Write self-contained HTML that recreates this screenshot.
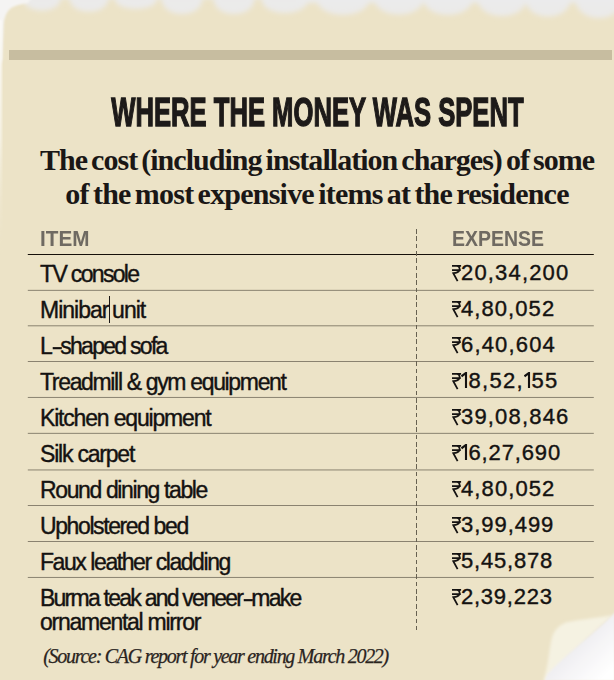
<!DOCTYPE html>
<html><head><meta charset="utf-8">
<style>
html,body{margin:0;padding:0;width:614px;height:680px;overflow:hidden;background:#ece3c7;}
#root{width:614px;height:680px;overflow:hidden;position:relative;background:#ece3c7;font-family:"Liberation Sans",sans-serif;}
.a{position:absolute;white-space:nowrap;}
#band{left:9.3px;top:50.2px;width:602.7px;height:9.5px;background:#c7bda0;}
#title{left:-200px;width:1034px;text-align:center;font:bold 41.2px/1 "Liberation Sans",sans-serif;color:#1d1a19;}
#title span{display:inline-block;transform:scaleX(0.622);transform-origin:center;-webkit-text-stroke:1.4px #1d1a19;}
.sub{left:-100px;width:834px;text-align:center;font:bold 30px/1 "Liberation Serif",serif;color:#1a1716;}
.hd{font:bold 22px/1 "Liberation Sans",sans-serif;color:#6f6a62;letter-spacing:-1.2px;}
.it{font:23px/1 "Liberation Sans",sans-serif;color:#141211;-webkit-text-stroke:0.4px #141211;letter-spacing:-1.1px;}
.ex{font:22px/1 "Liberation Sans",sans-serif;color:#141211;-webkit-text-stroke:0.4px #141211;letter-spacing:0.7px;}
.rs{position:absolute;}
.ln{position:absolute;left:28px;width:566px;height:1px;background:#9b937f;}
#dash{position:absolute;left:416.1px;top:229px;width:1.4px;height:401px;background:repeating-linear-gradient(to bottom,#676151 0 4.7px,transparent 4.7px 7.35px);}
#src{left:43.2px;font:italic 20px/1 "Liberation Serif",serif;color:#2a241e;letter-spacing:-1.28px;-webkit-text-stroke:0.25px #2a241e;}
</style></head><body><div id="root">

<svg class="a" style="left:0;top:0" width="614" height="680" viewBox="0 0 614 680"><defs><filter id="bl" x="-5%" y="-50%" width="110%" height="200%"><feGaussianBlur stdDeviation="2.8"/></filter><filter id="bl2"><feGaussianBlur stdDeviation="2.2"/></filter><filter id="bl3" x="-20%" y="-20%" width="140%" height="140%"><feGaussianBlur stdDeviation="1.6"/></filter><filter id="bl4" x="-20%" y="-20%" width="140%" height="140%"><feGaussianBlur stdDeviation="0.8"/></filter><linearGradient id="lg" x1="0" y1="0" x2="0" y2="1"><stop offset="0" stop-color="#fbfaf6"/><stop offset="0.5" stop-color="#f6f2e4"/><stop offset="1" stop-color="#ece3c7" stop-opacity="0"/></linearGradient><linearGradient id="cg" x1="0.1" y1="0.1" x2="0.9" y2="0.9"><stop offset="0" stop-color="#e5e4e9"/><stop offset="0.45" stop-color="#efeef1"/><stop offset="1" stop-color="#ffffff"/></linearGradient></defs><g fill="#ebebec" fill-opacity="0.95" filter="url(#bl)"><rect x="0" y="-5" width="614" height="3.5"/><rect x="300" y="-5" width="320" height="8"/><ellipse cx="42" cy="0" rx="18.4" ry="10.5"/><ellipse cx="89" cy="0" rx="19.2" ry="11.5"/><ellipse cx="136" cy="0" rx="20.8" ry="9"/><ellipse cx="182" cy="0" rx="20.3" ry="14"/><ellipse cx="234" cy="0" rx="20.3" ry="14"/><ellipse cx="285" cy="0" rx="23.2" ry="13"/><ellipse cx="343" cy="0" rx="26.1" ry="15"/><ellipse cx="399" cy="0" rx="24.3" ry="14.5"/><ellipse cx="448" cy="0" rx="24.3" ry="15"/><ellipse cx="502" cy="0" rx="24.3" ry="16"/><ellipse cx="548" cy="0" rx="22.5" ry="16.5"/><ellipse cx="599" cy="0" rx="23.4" ry="18"/></g><path d="M-3,-3 H32 L28,3.2 C20,3.8 12,6 8.5,10.5 C5.5,14.5 4,19 3.7,24 L2.2,60 L-3,70 Z" fill="#f5f4f3" filter="url(#bl4)"/><rect x="-2" y="20" width="3.9" height="240" fill="url(#lg)" filter="url(#bl4)"/><path d="M612.5,615.3 C595,618 578,620 566.6,622.3 C559,625 554,631 552.2,636.7 C550.5,643 549.5,651 548.5,658 C547.5,666 545.5,673 543.5,681 L548,681 C565,658 590,636 612.5,615.3 Z" fill="#f5f2e2" filter="url(#bl3)"/><path d="M612,615.6 L615,612 L615,681 L544.5,681 L547.5,674 C565,656 590,636 612,615.6 Z" fill="url(#cg)" filter="url(#bl4)"/></svg>
<div class="a" id="band"></div>
<div class="a" id="title" style="top:92.32px"><span>WHERE THE MONEY WAS SPENT</span></div>
<div class="a sub" style="top:144.88px;letter-spacing:-0.97px;word-spacing:-2.5px">The cost (including installation charges) of some</div>
<div class="a sub" style="top:179.18px;letter-spacing:-0.78px;word-spacing:-2.5px">of the most expensive items at the residence</div>
<div class="a hd" style="left:40px;top:228.08px;letter-spacing:0px;transform:scaleX(0.94);transform-origin:0 0">ITEM</div>
<div class="a hd" style="left:452px;top:228.08px;letter-spacing:0px;transform:scaleX(0.885);transform-origin:0 0">EXPENSE</div>
<svg class="a" style="left:0;top:0" width="614" height="680"><line x1="27.8" x2="593.8" y1="254.5" y2="254.5" stroke="#16100a" stroke-width="1.1"/><line x1="27.8" x2="593.8" y1="290.35" y2="290.35" stroke="#8a8270" stroke-width="1.0"/><line x1="27.8" x2="593.8" y1="325.80" y2="325.80" stroke="#8a8270" stroke-width="1.0"/><line x1="27.8" x2="593.8" y1="361.50" y2="361.50" stroke="#8a8270" stroke-width="1.0"/><line x1="27.8" x2="593.8" y1="397.45" y2="397.45" stroke="#8a8270" stroke-width="1.0"/><line x1="27.8" x2="593.8" y1="433.35" y2="433.35" stroke="#8a8270" stroke-width="1.0"/><line x1="27.8" x2="593.8" y1="469.95" y2="469.95" stroke="#8a8270" stroke-width="1.0"/><line x1="27.8" x2="593.8" y1="505.50" y2="505.50" stroke="#8a8270" stroke-width="1.0"/><line x1="27.8" x2="593.8" y1="541.50" y2="541.50" stroke="#8a8270" stroke-width="1.0"/><line x1="27.8" x2="593.8" y1="577.45" y2="577.45" stroke="#8a8270" stroke-width="1.0"/></svg>
<div id="dash"></div>
<div class="a it" style="left:40px;top:262.83px;letter-spacing:-1.66px">TV console</div>
<div class="a ex" style="left:461px;top:262.08px;letter-spacing:1.17px">20,34,200</div>
<svg class="rs" style="left:452px;top:265.00px" width="10" height="17" viewBox="0 0 10 17"><path d="M0 0.75H9.1M0 5.1H8.8M4.6 0.9C7.4 1.1 7.9 3.4 7.4 5.1C6.7 7.2 4.2 8.0 1.3 8.2L5.6 16.2" fill="none" stroke="#141211" stroke-width="1.75"/></svg>
<div class="a it" style="left:40px;top:298.81px;letter-spacing:-0.99px">Minibar</div>
<div class="a it" style="left:112.10px;top:298.81px;letter-spacing:-0.99px">unit</div>
<div class="a" style="left:109px;top:296px;width:1px;height:27px;background:#1a1716"></div>
<div class="a ex" style="left:461px;top:298.06px;letter-spacing:1.07px">4,80,052</div>
<svg class="rs" style="left:452px;top:300.98px" width="10" height="17" viewBox="0 0 10 17"><path d="M0 0.75H9.1M0 5.1H8.8M4.6 0.9C7.4 1.1 7.9 3.4 7.4 5.1C6.7 7.2 4.2 8.0 1.3 8.2L5.6 16.2" fill="none" stroke="#141211" stroke-width="1.75"/></svg>
<div class="a it" style="left:40px;top:334.79px;letter-spacing:-1.72px">L<span style="display:inline-block;transform:scaleX(1.5);margin:0 1.6px">-</span>shaped sofa</div>
<div class="a ex" style="left:461px;top:334.04px;letter-spacing:1.16px">6,40,604</div>
<svg class="rs" style="left:452px;top:336.96px" width="10" height="17" viewBox="0 0 10 17"><path d="M0 0.75H9.1M0 5.1H8.8M4.6 0.9C7.4 1.1 7.9 3.4 7.4 5.1C6.7 7.2 4.2 8.0 1.3 8.2L5.6 16.2" fill="none" stroke="#141211" stroke-width="1.75"/></svg>
<div class="a it" style="left:40px;top:370.77px;letter-spacing:-1.34px">Treadmill &amp; gym equipment</div>
<div class="a ex" style="left:461px;top:370.02px;letter-spacing:1.32px"><svg width="6.5" height="16" viewBox="0 0 6.5 16" style="vertical-align:baseline;margin-right:1px"><path d="M5 16V0.9L0.5 4.3" fill="none" stroke="#141211" stroke-width="2.1" stroke-linejoin="miter"/></svg>8,52,<svg width="6.5" height="16" viewBox="0 0 6.5 16" style="vertical-align:baseline;margin-right:1px"><path d="M5 16V0.9L0.5 4.3" fill="none" stroke="#141211" stroke-width="2.1" stroke-linejoin="miter"/></svg>55</div>
<svg class="rs" style="left:452px;top:372.94px" width="10" height="17" viewBox="0 0 10 17"><path d="M0 0.75H9.1M0 5.1H8.8M4.6 0.9C7.4 1.1 7.9 3.4 7.4 5.1C6.7 7.2 4.2 8.0 1.3 8.2L5.6 16.2" fill="none" stroke="#141211" stroke-width="1.75"/></svg>
<div class="a it" style="left:40px;top:406.75px;letter-spacing:-1.18px">Kitchen equipment</div>
<div class="a ex" style="left:461px;top:406.00px;letter-spacing:1.18px">39,08,846</div>
<svg class="rs" style="left:452px;top:408.92px" width="10" height="17" viewBox="0 0 10 17"><path d="M0 0.75H9.1M0 5.1H8.8M4.6 0.9C7.4 1.1 7.9 3.4 7.4 5.1C6.7 7.2 4.2 8.0 1.3 8.2L5.6 16.2" fill="none" stroke="#141211" stroke-width="1.75"/></svg>
<div class="a it" style="left:40px;top:442.73px;letter-spacing:-1.21px">Silk carpet</div>
<div class="a ex" style="left:461px;top:441.98px;letter-spacing:0.86px"><svg width="6.5" height="16" viewBox="0 0 6.5 16" style="vertical-align:baseline;margin-right:1px"><path d="M5 16V0.9L0.5 4.3" fill="none" stroke="#141211" stroke-width="2.1" stroke-linejoin="miter"/></svg>6,27,690</div>
<svg class="rs" style="left:452px;top:444.90px" width="10" height="17" viewBox="0 0 10 17"><path d="M0 0.75H9.1M0 5.1H8.8M4.6 0.9C7.4 1.1 7.9 3.4 7.4 5.1C6.7 7.2 4.2 8.0 1.3 8.2L5.6 16.2" fill="none" stroke="#141211" stroke-width="1.75"/></svg>
<div class="a it" style="left:40px;top:478.71px;letter-spacing:-1.38px">Round dining table</div>
<div class="a ex" style="left:461px;top:477.96px;letter-spacing:1.10px">4,80,052</div>
<svg class="rs" style="left:452px;top:480.88px" width="10" height="17" viewBox="0 0 10 17"><path d="M0 0.75H9.1M0 5.1H8.8M4.6 0.9C7.4 1.1 7.9 3.4 7.4 5.1C6.7 7.2 4.2 8.0 1.3 8.2L5.6 16.2" fill="none" stroke="#141211" stroke-width="1.75"/></svg>
<div class="a it" style="left:40px;top:514.69px;letter-spacing:-1.40px">Upholstered bed</div>
<div class="a ex" style="left:461px;top:513.94px;letter-spacing:0.96px">3,99,499</div>
<svg class="rs" style="left:452px;top:516.86px" width="10" height="17" viewBox="0 0 10 17"><path d="M0 0.75H9.1M0 5.1H8.8M4.6 0.9C7.4 1.1 7.9 3.4 7.4 5.1C6.7 7.2 4.2 8.0 1.3 8.2L5.6 16.2" fill="none" stroke="#141211" stroke-width="1.75"/></svg>
<div class="a it" style="left:40px;top:550.67px;letter-spacing:-1.43px">Faux leather cladding</div>
<div class="a ex" style="left:461px;top:549.92px;letter-spacing:0.81px">5,45,878</div>
<svg class="rs" style="left:452px;top:552.84px" width="10" height="17" viewBox="0 0 10 17"><path d="M0 0.75H9.1M0 5.1H8.8M4.6 0.9C7.4 1.1 7.9 3.4 7.4 5.1C6.7 7.2 4.2 8.0 1.3 8.2L5.6 16.2" fill="none" stroke="#141211" stroke-width="1.75"/></svg>
<div class="a it" style="left:40px;top:586.65px;letter-spacing:-1.76px">Burma teak and veneer<span style="display:inline-block;transform:scaleX(1.5);margin:0 1.6px">-</span>make</div>
<div class="a ex" style="left:461px;top:585.90px;letter-spacing:0.75px">2,39,223</div>
<svg class="rs" style="left:452px;top:588.82px" width="10" height="17" viewBox="0 0 10 17"><path d="M0 0.75H9.1M0 5.1H8.8M4.6 0.9C7.4 1.1 7.9 3.4 7.4 5.1C6.7 7.2 4.2 8.0 1.3 8.2L5.6 16.2" fill="none" stroke="#141211" stroke-width="1.75"/></svg>
<div class="a it" style="left:40px;top:610.85px;letter-spacing:-1.26px">ornamental mirror</div>
<div class="a" id="src" style="top:646.05px">(Source: CAG report for year ending March 2022)</div>
</div></body></html>
